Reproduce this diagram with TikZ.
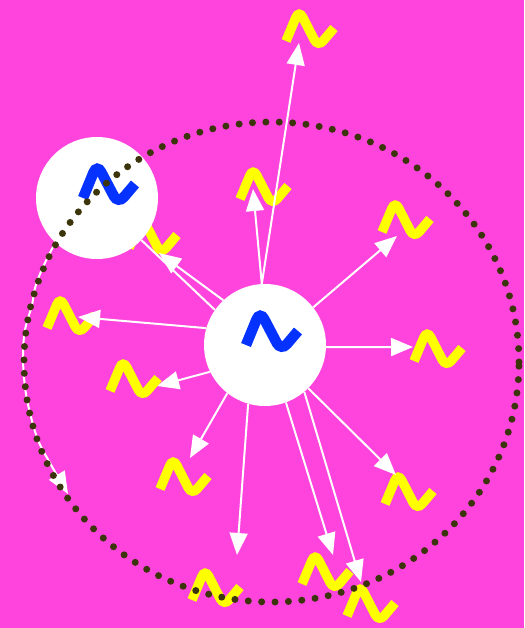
\documentclass[tikz,border=0pt]{standalone}
\usetikzlibrary{arrows.meta}
\definecolor{bg}{RGB}{255,68,221}
\definecolor{wavey}{RGB}{255,255,0}
\definecolor{waveb}{RGB}{5,50,255}
\definecolor{dotc}{RGB}{60,52,10}
\tikzset{
  pics/wave/.style={code={
    \draw[#1, line width=9.5pt, rounded corners=8pt, line cap=butt]
      (-23,12) -- (-10,-19) -- (9,18) -- (25,-1);}},
  pics/bigwave/.style={code={
    \draw[#1, line width=10.5pt, rounded corners=9pt, line cap=butt]
      (-25,13) -- (-11,-21) -- (10,19) -- (27,-1);}},
  ball/.style={circle, fill=white, minimum size=122pt, inner sep=0pt},
  arr/.style={white, line width=2pt, -{Triangle[length=22pt,width=18pt]}},
  edgeline/.style={white, line width=2pt},
  dots/.style={dotc, line width=7pt, line cap=round, dash pattern=on 0pt off 13.4pt},
}
\begin{document}
\begin{tikzpicture}[x=1pt, y=-1pt]
\fill[bg] (0,0) rectangle (524,628);
\useasboundingbox (0,0) rectangle (524,628);

% yellow glyphs
\pic (y1) at (309,29) {wave=wavey};
\pic (y2) at (263,187) {wave=wavey};
\pic (y3) at (405,220) {wave=wavey};
\pic (y4) at (437,349) {wave=wavey};
\pic (y5) at (408,492) {wave=wavey};
\pic (y6) at (370,604) {wave=wavey};
\pic (y7) at (325,572) {wave=wavey};
\pic (y8) at (215,588) {wave=wavey};
\pic (y9) at (183,477) {wave=wavey};
\pic (y11) at (70,316) {wave=wavey};
\pic (y12) at (152,236) {wave=wavey};

% nodes
\node[ball] (c) at (265,345) {};
\node[ball] (tl) at (97,198) {};
\pic (b1) at (271,332) {bigwave=waveb};
\pic (b2) at (108,185) {bigwave=waveb};

% arrow targets
\coordinate (t1) at (299,43);
\coordinate (t2) at (253,189);
\coordinate (t3) at (397,236);
\coordinate (t4) at (413,347);
\coordinate (t5) at (396,475);
\coordinate (t6) at (361,582);
\coordinate (t7) at (333,555);
\coordinate (t8) at (237,555);
\coordinate (t9) at (190,458);
\coordinate (t10) at (157,386);
\coordinate (t11) at (78,317);
\coordinate (t12) at (159,253);
\coordinate (tc) at (68,494);

\draw[arr] (c.93) -- (t1);
\draw[arr] (c.93) -- (t2);
\draw[arr] (c.38) -- (t3);
\draw[arr] (c.-2) -- (t4);
\draw[arr] (c.-45) -- (t5);
\draw[arr] (c.-50) -- (t6);
\draw[arr] (c.-70) -- (t7);
\draw[arr] (c.-106) -- (t8);
\draw[arr] (c.-128) -- (t9);
\draw[arr] (c.-154) -- (t10);
\draw[arr] (c.164) -- (t11);
\draw[arr] (c.133) -- (t12);
\draw[edgeline] (c.145) -- (tl);

\pic (y10) at (133,379) {wave=wavey};

% curved arrow from the top-left node
\draw[arr] plot[smooth, tension=0.6] coordinates {(tl.227) (43,267) (35,288) (32,305) (25,330) (23,357) (25,387) (30,413) (38,440) (50,463) (tc)};

% dotted ring
\draw[dots] (271.5,362) ellipse [x radius=247.5pt, y radius=240pt];
\end{tikzpicture}
\end{document}
